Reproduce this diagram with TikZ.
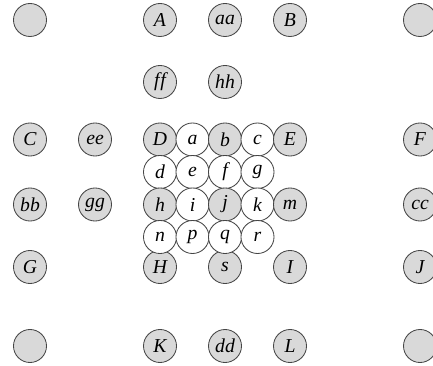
\documentclass[tikz,border=0pt]{standalone}
\usepackage{fontspec}
\setmainfont{Liberation Serif}
\usepackage{xcolor}
\definecolor{cellShade}{HTML}{D9D9D9}
\definecolor{cellEdge}{HTML}{454545}

\begin{document}
\begin{tikzpicture}[x=0.025cm, y=-0.025cm,
  graycell/.style={circle, draw=cellEdge, line width=0.6pt, minimum size=8.25mm, inner sep=0pt,
    fill=cellShade, font=\fontsize{14}{16}\selectfont\itshape},
  whitecell/.style={graycell, fill=white}]
  \useasboundingbox (0,0) rectangle (433,366);
  % outer ring
  \node[graycell] (nw) at (30,20) {};
  \node[graycell] (A) at (160,20) {A};
  \node[graycell] (aa) at (225,20) {aa};
  \node[graycell] (B) at (290,20) {B};
  \node[graycell] (ne) at (420,20) {};
  \node[graycell] (ff) at (160,82) {f\kern0.5pt f};
  \node[graycell] (hh) at (225,82) {hh};
  \node[graycell] (C) at (30,139.5) {C};
  \node[graycell] (ee) at (95,139.5) {ee};
  \node[graycell] (F) at (420,139.5) {F};
  \node[graycell] (bb) at (30,204.5) {bb};
  \node[graycell] (gg) at (95,204.5) {gg};
  \node[graycell] (cc) at (420,204.5) {cc};
  \node[graycell] (G) at (30,267) {G};
  \node[graycell] (H) at (160,267) {H};
  \node[graycell] (s) at (225,267) {s};
  \node[graycell] (I) at (290,267) {I};
  \node[graycell] (J) at (420,267) {J};
  \node[graycell] (sw) at (30,346) {};
  \node[graycell] (K) at (160,346) {K};
  \node[graycell] (dd) at (225,346) {dd};
  \node[graycell] (L) at (290,346) {L};
  \node[graycell] (se) at (420,346) {};
  % inner grid
  \node[graycell] (D) at (160,139.5) {D};
  \node[whitecell] (a) at (192.5,139.5) {a};
  \node[graycell] (b) at (225,139.5) {b};
  \node[whitecell] (c) at (257.5,139.5) {c};
  \node[graycell] (E) at (290,139.5) {E};
  \node[whitecell] (d) at (160,172) {d};
  \node[whitecell] (e) at (192.5,172) {e};
  \node[whitecell] (f) at (225,172) {f};
  \node[whitecell] (g) at (257.5,172) {g};
  \node[graycell] (h) at (160,204.5) {h};
  \node[whitecell] (i) at (192.5,204.5) {i};
  \node[graycell] (j) at (225,204.5) {j};
  \node[whitecell] (k) at (257.5,204.5) {k};
  \node[graycell] (m) at (290,204.5) {m};
  \node[whitecell] (n) at (160,237) {n};
  \node[whitecell] (p) at (192.5,237) {p};
  \node[whitecell] (q) at (225,237) {q};
  \node[whitecell] (r) at (257.5,237) {r};
\end{tikzpicture}
\end{document}
